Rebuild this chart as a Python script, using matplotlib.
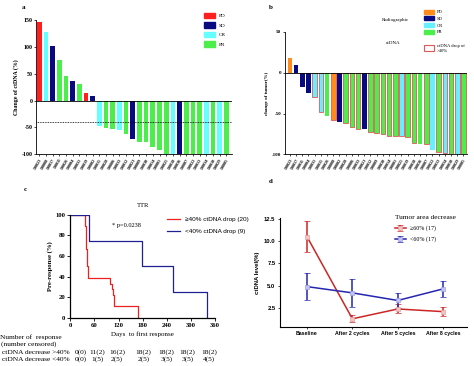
import numpy as np
import matplotlib
matplotlib.use("Agg")
import matplotlib.pyplot as plt
from matplotlib.patches import Patch

plt.rcParams['font.family'] = ['Liberation Serif', 'DejaVu Serif']
plt.rcParams['axes.linewidth'] = 0.6

# ---- data ----
ids_a = ["190023", "190008", "190017", "190011", "190026", "190004", "190031", "190019",
         "190002", "190015", "190028", "190006", "190033", "190012", "190021", "190009",
         "190030", "190014", "190001", "190025", "190018", "190036", "190007", "190022",
         "190013", "190034", "190010", "190029", "190005"]
chg_a = [147, 127, 102, 76, 46, 37, 31, 14, 9,
         -47, -51, -54, -55, -62, -71, -78, -78, -87, -92,
         -100, -100, -100, -100, -100, -100, -100, -100, -100, -100]
resp_a = ['PD', 'CR', 'SD', 'PR', 'PR', 'SD', 'PR', 'PD', 'SD',
          'CR', 'PR', 'PR', 'CR', 'PR', 'SD', 'PR', 'PR', 'PR', 'PR',
          'PR', 'CR', 'SD', 'PR', 'PR', 'PR', 'CR', 'PR', 'CR', 'PR']

ids_b = ["190023", "190017", "190011", "190004", "190031", "190015", "190026", "190008",
         "190002", "190028", "190006", "190033", "190021", "190012", "190009", "190030",
         "190014", "190001", "190025", "190019", "190018", "190036", "190007", "190022",
         "190013", "190034", "190010", "190029", "190005"]
chg_b = [18, 9, -18, -25, -30, -48, -53, -58, -60,
         -62, -67, -69, -69, -72, -74, -75, -77, -77, -78,
         -79, -86, -87, -87, -94, -97, -98, -100, -100, -100]
resp_b = ['PD', 'SD', 'SD', 'SD', 'CR', 'CR', 'PR', 'PD', 'SD',
          'PR', 'PR', 'PR', 'SD', 'PR', 'PR', 'PR', 'PR', 'PR', 'CR',
          'PR', 'PR', 'PR', 'PR', 'CR', 'PR', 'CR', 'PR', 'CR', 'PR']
drop40_b = [0, 0, 0, 0, 1, 1, 0, 1, 0,
            1, 1, 1, 0, 1, 1, 1, 1, 1, 1,
            1, 1, 0, 1, 0, 1, 1, 1, 1, 1]

# TTR steps
t_hi = [0, 37, 38, 39, 40, 42, 44, 98, 104, 106, 110, 168]
s_hi = [100, 94, 89, 83, 67, 50, 39, 33, 28, 22, 11, 0]
t_lo = [0, 47, 178, 255, 340]
s_lo = [100, 75, 50, 25, 0]
risk_cols = [28, 68, 117, 183, 240, 292, 346]
risk_hi = ["0(0)", "11(2)", "16(2)", "18(2)", "18(2)", "18(2)", "18(2)"]
risk_lo = ["0(0)", "1(5)", "2(5)", "2(5)", "3(5)", "3(5)", "4(5)"]

# ctDNA level
cycles = ["Baseline", "After 2 cycles", "After 5 cycles", "After 8 cycles"]
hi_mean = [10.5, 1.3, 2.4, 2.1]
hi_err = [1.7, 0.4, 0.5, 0.5]
lo_mean = [4.9, 4.2, 3.35, 4.65]
lo_err = [1.5, 1.6, 0.8, 0.9]

col_a = {'PD': '#ff1f1f', 'SD': '#0a0a80', 'CR': '#66ffff', 'PR': '#4cee4c'}
col_b = {'PD': '#ff8c1a', 'SD': '#0a0a80', 'CR': '#66f0ff', 'PR': '#4cee4c'}

fig = plt.figure(figsize=(4.74, 3.66), dpi=100)

# ---- panel a ----
ax = fig.add_axes([0.076, 0.579, 0.414, 0.366])
x = np.arange(len(chg_a))
ax.bar(x, chg_a, width=0.7, color=[col_a[r] for r in resp_a])
ax.axhline(0, color='k', lw=0.6)
ax.axhline(-40, color='k', lw=0.6, ls=(0, (1, 1)))
ax.set_xlim(-0.5, 28.9)
ax.set_ylim(-100, 150)
ax.set_yticks([-100, -50, 0, 50, 100, 150])
ax.set_yticklabels(['-100', '-50', '0', '50', '100', '150'], fontsize=4.3, fontweight='bold')
ax.set_xticks(x)
ax.set_xticklabels(ids_a, rotation=60, fontsize=3.0, fontweight='bold', ha='right', rotation_mode='anchor')
ax.tick_params(length=1.5, width=0.5, pad=1)
ax.spines[['top', 'right']].set_visible(False)
ax.set_ylabel("Change of ctDNA (%)", fontsize=4.2, fontweight='bold', labelpad=2)
ax.legend(handles=[Patch(color=col_a[k], label=k) for k in ['PD', 'SD', 'CR', 'PR']],
          loc='upper left', bbox_to_anchor=(0.83, 1.09), frameon=False, fontsize=3.8,
          handlelength=2.2, handleheight=1.2, labelspacing=0.75, handletextpad=0.6)
fig.text(0.046, 0.985, "a", fontsize=5, fontweight='bold', va='top')

# ---- panel b ----
ax = fig.add_axes([0.601, 0.578, 0.384, 0.335])
x = np.arange(len(chg_b))
ax.bar(x, chg_b, width=0.75, color=[col_b[r] for r in resp_b],
       edgecolor=['#e05858' if d else 'none' for d in drop40_b], linewidth=0.6)
ax.axhline(0, color='k', lw=0.6)
ax.set_xlim(-0.8, 28.55)
ax.set_ylim(-100, 50)
ax.set_yticks([-100, -50, 0, 50])
ax.set_yticklabels(['-100', '-50', '0', '50'], fontsize=3.6, fontweight='bold')
ax.set_xticks(x)
ax.set_xticklabels(ids_b, rotation=60, fontsize=3.0, fontweight='bold', ha='right', rotation_mode='anchor')
ax.tick_params(length=1.5, width=0.5, pad=1)
ax.spines[['top', 'right']].set_visible(False)
ax.set_ylabel("change of tumor(%)", fontsize=3.6, fontweight='bold', labelpad=2)
leg1 = ax.legend(handles=[Patch(color=col_b[k], label=k) for k in ['PD', 'SD', 'CR', 'PR']],
                 loc='upper left', bbox_to_anchor=(0.74, 1.215), frameon=False, fontsize=3.3,
                 handlelength=2.2, handleheight=1.0, labelspacing=0.45, handletextpad=0.6)
ax.add_artist(leg1)
ax.legend(handles=[Patch(facecolor='white', edgecolor='#e05858', lw=0.8, label="ctDNA drop of\n>40%")],
          loc='upper left', bbox_to_anchor=(0.74, 0.935), frameon=False, fontsize=3.3,
          handlelength=2.2, handleheight=1.6, handletextpad=0.6)
fig.text(0.863, 0.945, "Radiographic", fontsize=3.6, ha='right', va='center')
fig.text(0.845, 0.883, "ctDNA", fontsize=3.6, ha='right', va='center')
fig.text(0.567, 0.985, "b", fontsize=5, fontweight='bold', va='top')

# ---- panel c ----
ax = fig.add_axes([0.148, 0.132, 0.306, 0.281])
ax.plot(t_hi, s_hi, drawstyle='steps-post', color='#ee2020', lw=0.9,
        label="\u226540% ctDNA drop (20)")
ax.plot(t_lo, s_lo, drawstyle='steps-post', color='#202090', lw=0.9,
        label="<40% ctDNA drop (9)")
ax.set_xlim(0, 360)
ax.set_ylim(0, 100)
ax.set_xticks(np.arange(0, 361, 60))
ax.set_yticks(np.arange(0, 101, 20))
for lab in ax.get_xticklabels() + ax.get_yticklabels():
    lab.set_fontsize(4.8)
    lab.set_fontweight('bold')
ax.tick_params(length=2, width=0.6, pad=1.5)
ax.spines[['top', 'right']].set_visible(False)
ax.spines[['left', 'bottom']].set_linewidth(0.9)
ax.set_ylabel("Pre-response (%)", fontsize=4.8, fontweight='bold', labelpad=2)
ax.set_xlabel("Days  to first response", fontsize=5, labelpad=3)
ax.set_title("TTR", fontsize=4.8, pad=6)
ax.text(105, 88, "* p=0.0238", fontsize=4.6)
ax.legend(loc='upper left', bbox_to_anchor=(0.63, 1.04), frameon=False,
          prop={'family': 'Liberation Sans', 'size': 4.6}, handlelength=2.0,
          labelspacing=1.0)
fig.text(0.051, 0.489, "c", fontsize=5, fontweight='bold', va='top')
fig.text(0.0, 0.079, "Number of  response", fontsize=5.3, va='center')
fig.text(0.003, 0.061, "(number censored)", fontsize=5.3, va='center')
fig.text(0.005, 0.038, "ctDNA decrease >40%", fontsize=5.3, va='center')
fig.text(0.005, 0.018, "ctDNA decrease <40%", fontsize=5.3, va='center')
for xc, h, l in zip(risk_cols, risk_hi, risk_lo):
    xf = (70 + xc / 360 * 145) / 474
    fig.text(xf, 0.038, h, fontsize=5.3, ha='center', va='center')
    fig.text(xf, 0.018, l, fontsize=5.3, ha='center', va='center')

# ---- panel d ----
ax = fig.add_axes([0.590, 0.106, 0.395, 0.299])
xd = np.arange(len(cycles))
ax.errorbar(xd, hi_mean, yerr=hi_err, color='#cc2626', lw=1.1, capsize=2, capthick=1.1,
            elinewidth=1.1, marker='s', ms=3.5, mfc='#f2c4c4', mec='#e8a0a0', mew=0.5,
            label="\u226560% (17)")
ax.errorbar(xd, lo_mean, yerr=lo_err, color='#2626b0', lw=1.1, capsize=2, capthick=1.1,
            elinewidth=1.1, marker='s', ms=3.5, mfc='#c4c4f2', mec='#a0a0e8', mew=0.5,
            label="<60% (17)")
ax.set_xlim(-0.6, 3.52)
ax.set_ylim(0.36, 12.6)
ax.set_yticks([2.5, 5.0, 7.5, 10.0, 12.5])
ax.set_xticks(xd)
ax.set_xticklabels(cycles, fontsize=3.8, fontweight='bold', family='Liberation Sans')
ax.set_yticklabels(['2.5', '5.0', '7.5', '10.0', '12.5'], fontsize=4.2, fontweight='bold',
                   family='Liberation Sans')
ax.tick_params(length=1.5, width=0.5, pad=1.5)
ax.spines[['top', 'right']].set_visible(False)
ax.spines[['left', 'bottom']].set_linewidth(0.8)
ax.set_ylabel("ctDNA level(%)", fontsize=4.3, fontweight='bold', family='Liberation Sans',
              labelpad=3)
leg = ax.legend(title="Tumor area decrease", loc='upper left', bbox_to_anchor=(0.59, 1.07),
                frameon=False, fontsize=4.3, title_fontsize=5.3, handlelength=1.8,
                labelspacing=0.9, borderpad=0.3)
leg._legend_box.align = 'left'
fig.text(0.567, 0.51, "d", fontsize=5, fontweight='bold', va='top')

fig.savefig("out.png", dpi=100)
